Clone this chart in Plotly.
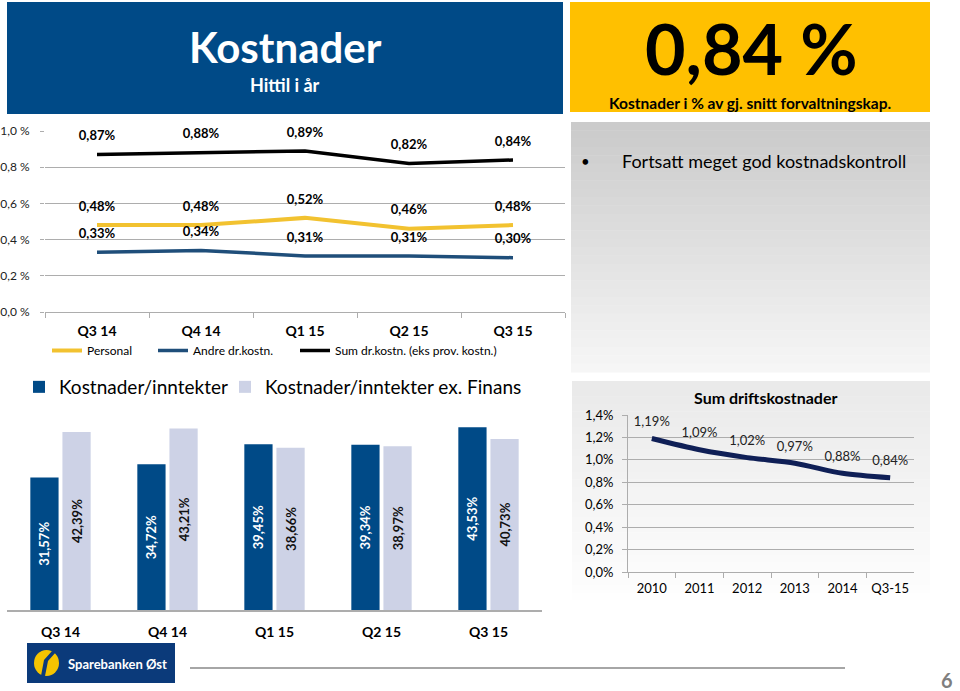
import plotly.graph_objects as go

# ---------------- data ----------------
quarters = ["Q3 14", "Q4 14", "Q1 15", "Q2 15", "Q3 15"]
personal = [0.48, 0.48, 0.52, 0.46, 0.48]
andre = [0.33, 0.34, 0.31, 0.31, 0.30]
sum_dr = [0.87, 0.88, 0.89, 0.82, 0.84]

kost_innt = [31.57, 34.72, 39.45, 39.34, 43.53]
kost_innt_ex = [42.39, 43.21, 38.66, 38.97, 40.73]

years = ["2010", "2011", "2012", "2013", "2014", "Q3-15"]
sum_drift = [1.19, 1.09, 1.02, 0.97, 0.88, 0.84]

W, H = 960, 691
FONT = "Lato"
BLUE = "#004A87"
LIGHT = "#CDD2E6"
YELLOW = "#FFC000"

# the page shows the figure slightly shifted / compressed vertically;
# these constants map reference pixel rows to paper fractions
Y_OFF, Y_SPAN = 8.0, 675.0


def X(px):
    return px / W


def Y(py):
    return 1 - (py - Y_OFF) / Y_SPAN


def pct(v, d=2):
    return (f"{v:.{d}f}%").replace(".", ",")


fig = go.Figure()

# ---------------- top line chart ----------------
line_specs = [
    ("Personal", personal, "#F2C230", 4, "legend"),
    ("Andre dr.kostn.", andre, "#1F4E7A", 3.5, "legend3"),
    ("Sum dr.kostn. (eks prov. kostn.)", sum_dr, "#000000", 3.5, "legend4"),
]
for name, vals, col, lw, lg in line_specs:
    fig.add_trace(go.Scatter(
        x=quarters, y=vals, name=name, mode="lines+markers+text",
        line=dict(color=col, width=lw),
        marker=dict(size=16, color="rgba(0,0,0,0)"),
        text=[pct(v) for v in vals], textposition="top center",
        textfont=dict(family=FONT, size=13, color="#000000", weight="bold"),
        cliponaxis=False, xaxis="x", yaxis="y", legend=lg,
        hoverinfo="skip",
    ))

# ---------------- bar chart ----------------
fig.add_trace(go.Bar(
    x=quarters, y=kost_innt, name="Kostnader/inntekter",
    marker=dict(color=BLUE, line=dict(width=0)),
    text=[pct(v) for v in kost_innt], textposition="inside",
    insidetextanchor="middle", textangle=-90,
    textfont=dict(family=FONT, size=13, color="white", weight="bold"),
    xaxis="x2", yaxis="y2", legend="legend2", hoverinfo="skip",
))
fig.add_trace(go.Bar(
    x=quarters, y=kost_innt_ex, name="Kostnader/inntekter ex. Finans",
    marker=dict(color=LIGHT, line=dict(width=0)),
    text=[pct(v) for v in kost_innt_ex], textposition="inside",
    insidetextanchor="middle", textangle=-90,
    textfont=dict(family=FONT, size=13, color="#111111", weight="bold"),
    xaxis="x2", yaxis="y2", legend="legend5", hoverinfo="skip",
))

# ---------------- right line chart ----------------
fig.add_trace(go.Scatter(
    x=years, y=sum_drift, name="Sum driftskostnader", mode="lines+markers+text",
    line=dict(color="#0F1F56", width=5, shape="spline", smoothing=0.8),
    marker=dict(size=13, color="rgba(0,0,0,0)"),
    text=[pct(v) for v in sum_drift], textposition="top center",
    textfont=dict(family=FONT, size=13, color="#222222"),
    cliponaxis=False, xaxis="x3", yaxis="y3", showlegend=False,
    hoverinfo="skip",
))

shapes = []
annotations = []


def note(x, y, text, size, color="black", xanchor="center"):
    annotations.append(dict(x=X(x), y=Y(y), xref="paper", yref="paper",
                            xanchor=xanchor, yanchor="middle", text=text,
                            showarrow=False,
                            font=dict(family=FONT, size=size, color=color)))


# header blue box
shapes.append(dict(type="rect", xref="paper", yref="paper",
                   x0=X(7), x1=X(563), y0=Y(114), y1=Y(2),
                   fillcolor=BLUE, line=dict(width=0), layer="below"))
note(285, 47, "<b>Kostnader</b>", 42, "white")
note(285, 85, "<b>Hittil i år</b>", 18, "white")

# yellow box
shapes.append(dict(type="rect", xref="paper", yref="paper",
                   x0=X(570), x1=X(930), y0=Y(112), y1=Y(2),
                   fillcolor=YELLOW, line=dict(width=0), layer="below"))
note(751, 48, "<b>0,84 %</b>", 70)
note(750, 103, "<b>Kostnader i % av gj. snitt forvaltningskap.</b>", 15.5)

# gray gradient box
n = 30
top, bot = 122, 372
c0, c1 = 203, 246
for i in range(n):
    ya = top + (bot - top) * i / n
    yb = top + (bot - top) * (i + 1) / n
    c = int(c0 + (c1 - c0) * i / (n - 1))
    shapes.append(dict(type="rect", xref="paper", yref="paper",
                       x0=X(571), x1=X(930), y0=Y(yb + 0.5), y1=Y(ya),
                       fillcolor=f"rgb({c},{c},{c})", line=dict(width=0),
                       layer="below"))
note(585, 161, "•", 15)
note(620, 161, "Fortsatt meget god kostnadskontroll", 18, xanchor="left")

# right chart gradient background
top, bot = 381, 608
c0, c1 = 234, 255
for i in range(n):
    ya = top + (bot - top) * i / n
    yb = top + (bot - top) * (i + 1) / n
    c = int(c0 + (c1 - c0) * i / (n - 1))
    shapes.append(dict(type="rect", xref="paper", yref="paper",
                       x0=X(572), x1=X(930), y0=Y(yb + 0.5), y1=Y(ya),
                       fillcolor=f"rgb({c},{c},{c})", line=dict(width=0),
                       layer="below"))
note(765, 398, "<b>Sum driftskostnader</b>", 16)

# logo
shapes.append(dict(type="rect", xref="paper", yref="paper",
                   x0=X(27), x1=X(175), y0=Y(683), y1=Y(643),
                   fillcolor="#0B3A7A", line=dict(width=0)))
shapes.append(dict(type="circle", xref="paper", yref="paper",
                   x0=X(34), x1=X(59), y0=Y(676), y1=Y(650),
                   fillcolor="#F5C400", line=dict(width=0)))
sw = [(52, 651), (44, 660), (41, 676), (45, 676), (48, 661), (56, 652)]
path = "M " + " L ".join(f"{X(a):.5f},{Y(b):.5f}" for a, b in sw) + " Z"
shapes.append(dict(type="path", xref="paper", yref="paper", path=path,
                   fillcolor="#0B3A7A", line=dict(width=0)))
note(66, 664, "<b>Sparebanken Øst</b>", 13, "white", xanchor="left")

# footer line and page number
shapes.append(dict(type="line", xref="paper", yref="paper",
                   x0=X(190), x1=X(845), y0=Y(668), y1=Y(668),
                   line=dict(color="#A6A6A6", width=2)))
note(947, 680, "<b>6</b>", 20, "#7F7F7F")

grid = "#ADADAD"


def leg(x, y, size):
    return dict(orientation="h", x=X(x), y=Y(y), xanchor="left",
                yanchor="top", font=dict(family=FONT, size=size, color="black"),
                bgcolor="rgba(0,0,0,0)", itemwidth=30, borderwidth=0)


fig.update_layout(
    width=W, height=H, margin=dict(l=0, r=0, t=0, b=0),
    paper_bgcolor="white", plot_bgcolor="rgba(0,0,0,0)",
    separators=", ",
    font=dict(family=FONT, size=12, color="black"),
    shapes=shapes, annotations=annotations,
    barmode="group", bargap=0.4, bargroupgap=0.12,
    showlegend=True,
    xaxis=dict(domain=[X(45), X(565)], anchor="y", type="category",
               range=[-0.5, 4.5],
               showgrid=False, showline=True, linecolor=grid, linewidth=1,
               ticks="outside", tickson="boundaries", ticklen=5, tickcolor=grid,
               tickfont=dict(family=FONT, size=14, color="black", weight="bold"),
               ticklabelstandoff=6, fixedrange=True),
    yaxis=dict(domain=[Y(312), Y(131)], anchor="x", range=[0, 1.0], dtick=0.2,
               tickformat=".1f", ticksuffix=" %", showgrid=True, gridcolor=grid,
               zeroline=False, showline=False, ticks="outside", ticklen=4,
               tickcolor=grid, tickfont=dict(family=FONT, size=12, color="#222222"),
               ticklabelstandoff=8),
    legend=leg(47, 336, 12),
    legend3=leg(153, 336, 12),
    legend4=leg(295, 336, 12),
    xaxis2=dict(domain=[X(7), X(542)], anchor="y2", type="category",
                range=[-0.5, 4.5],
                showgrid=False, showline=True, linecolor=grid, linewidth=1.5,
                ticks="", tickfont=dict(family=FONT, size=14, color="black",
                                        weight="bold"),
                ticklabelstandoff=8),
    yaxis2=dict(domain=[Y(610), Y(400)], anchor="x2", range=[0, 50],
                visible=False),
    legend2=leg(19, 368, 19),
    legend5=leg(225, 368, 19),
    xaxis3=dict(domain=[X(628), X(914)], anchor="y3", type="category",
                range=[-0.5, 5.5],
                showgrid=False, showline=True, linecolor=grid, linewidth=1,
                ticks="outside", tickson="boundaries", ticklen=5, tickcolor=grid,
                tickfont=dict(family=FONT, size=13, color="black"),
                ticklabelstandoff=4),
    yaxis3=dict(domain=[Y(572), Y(415)], anchor="x3", range=[0, 1.4], dtick=0.2,
                tickformat=".1f", ticksuffix="%", showgrid=True, gridcolor=grid,
                zeroline=False, showline=True, linecolor=grid, ticks="outside",
                ticklen=5, tickcolor=grid,
                tickfont=dict(family=FONT, size=13, color="black"),
                ticklabelstandoff=6),
)

fig.write_html(
    "out.html",
    config={"displayModeBar": False},
    post_script=("document.body.style.margin='0';"
                 "document.documentElement.style.overflow='hidden';"
                 "document.body.style.overflow='hidden';"),
)
